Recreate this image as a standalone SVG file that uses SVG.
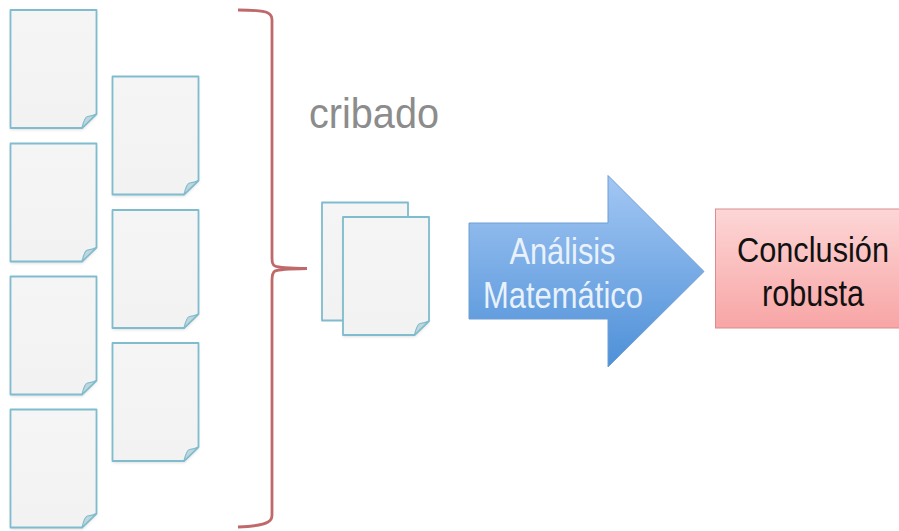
<svg xmlns="http://www.w3.org/2000/svg" width="899" height="531" viewBox="0 0 899 531">
<style>
text{font-family:"Liberation Sans",Arial,sans-serif;text-anchor:middle}
.sheet{fill:url(#sheet);stroke:#7fbccd;stroke-width:1.8;stroke-linejoin:round}
.fold{fill:#bfd6dc;stroke:#7fbccd;stroke-width:1.2;stroke-linejoin:round}
.shadow{fill:#000;opacity:.12;filter:url(#blur)}
</style>
<defs>
<linearGradient id="sheet" x1="0" y1="0" x2="0" y2="1"><stop offset="0" stop-color="#f5f5f6"/><stop offset="1" stop-color="#f2f2f3"/></linearGradient>
<linearGradient id="blue" x1="0" y1="0" x2="0" y2="1"><stop offset="0" stop-color="#a3c7f3"/><stop offset="1" stop-color="#4e90d8"/></linearGradient>
<linearGradient id="red" x1="0" y1="0" x2="0" y2="1"><stop offset="0" stop-color="#fdd6d6"/><stop offset="1" stop-color="#f8a5a5"/></linearGradient>
<filter id="blur" x="-20%" y="-20%" width="140%" height="140%"><feGaussianBlur stdDeviation="1.5"/></filter>
<g id="doc">
<path class="shadow" d="M0 2H86V106L72 120H0Z"/>
<path class="sheet" d="M0 0H86V104L71.500 118H0Z"/>
<path class="fold" d="M71.500 118Q74 107 77 106.500Q82 106 86 104Z"/>
</g>
<g id="plain">
<path class="sheet" d="M0 0H86V118H0Z"/>
</g>
</defs>
<g id="connectors">
<path d="M238 10Q262 10 268 13Q272 15 272 20V258Q272 265 275 266Q279 268 307 268.500Q279 269 275 271Q272 273 272 280V515Q272 520 268 522Q262 526 238 527" fill="none" stroke="#c0696b" stroke-width="2.800"/>
</g>
<g id="doc-a1"><use href="#doc" x="10.500" y="10"/></g>
<g id="doc-a2"><use href="#doc" x="10.500" y="143.500"/></g>
<g id="doc-a3"><use href="#doc" x="10.500" y="276.500"/></g>
<g id="doc-a4"><use href="#doc" x="10.500" y="409.500"/></g>
<g id="doc-b1"><use href="#doc" x="112.500" y="76.500"/></g>
<g id="doc-b2"><use href="#doc" x="112.500" y="210"/></g>
<g id="doc-b3"><use href="#doc" x="112.500" y="343"/></g>
<g id="label-cribado"><text x="374" y="128" font-size="43" fill="#8c8c8c" textLength="130" lengthAdjust="spacingAndGlyphs">cribado</text></g>
<g id="doc-back"><use href="#plain" x="322" y="202.500"/></g>
<g id="doc-front"><use href="#doc" x="343" y="217"/></g>
<g id="arrow">
<path d="M469 223H608V175.500L704 271.500L608 367V319H469Z" fill="url(#blue)" stroke="#6f9ed3" stroke-width="1"/>
<text x="562.500" y="264" font-size="36" fill="#e9f2fb" textLength="106" lengthAdjust="spacingAndGlyphs">Análisis</text>
<text x="563" y="308" font-size="36" fill="#e9f2fb" textLength="160" lengthAdjust="spacingAndGlyphs">Matemático</text>
</g>
<g id="conclusion">
<rect x="715.500" y="209" width="190" height="119" fill="url(#red)" stroke="#d98d8d" stroke-width="1"/>
<text transform="translate(813 262) scale(.854 1)" font-size="36" fill="#111">Conclusión</text>
<text x="813" y="306" font-size="36" fill="#111" textLength="102" lengthAdjust="spacingAndGlyphs">robusta</text>
</g>
</svg>
